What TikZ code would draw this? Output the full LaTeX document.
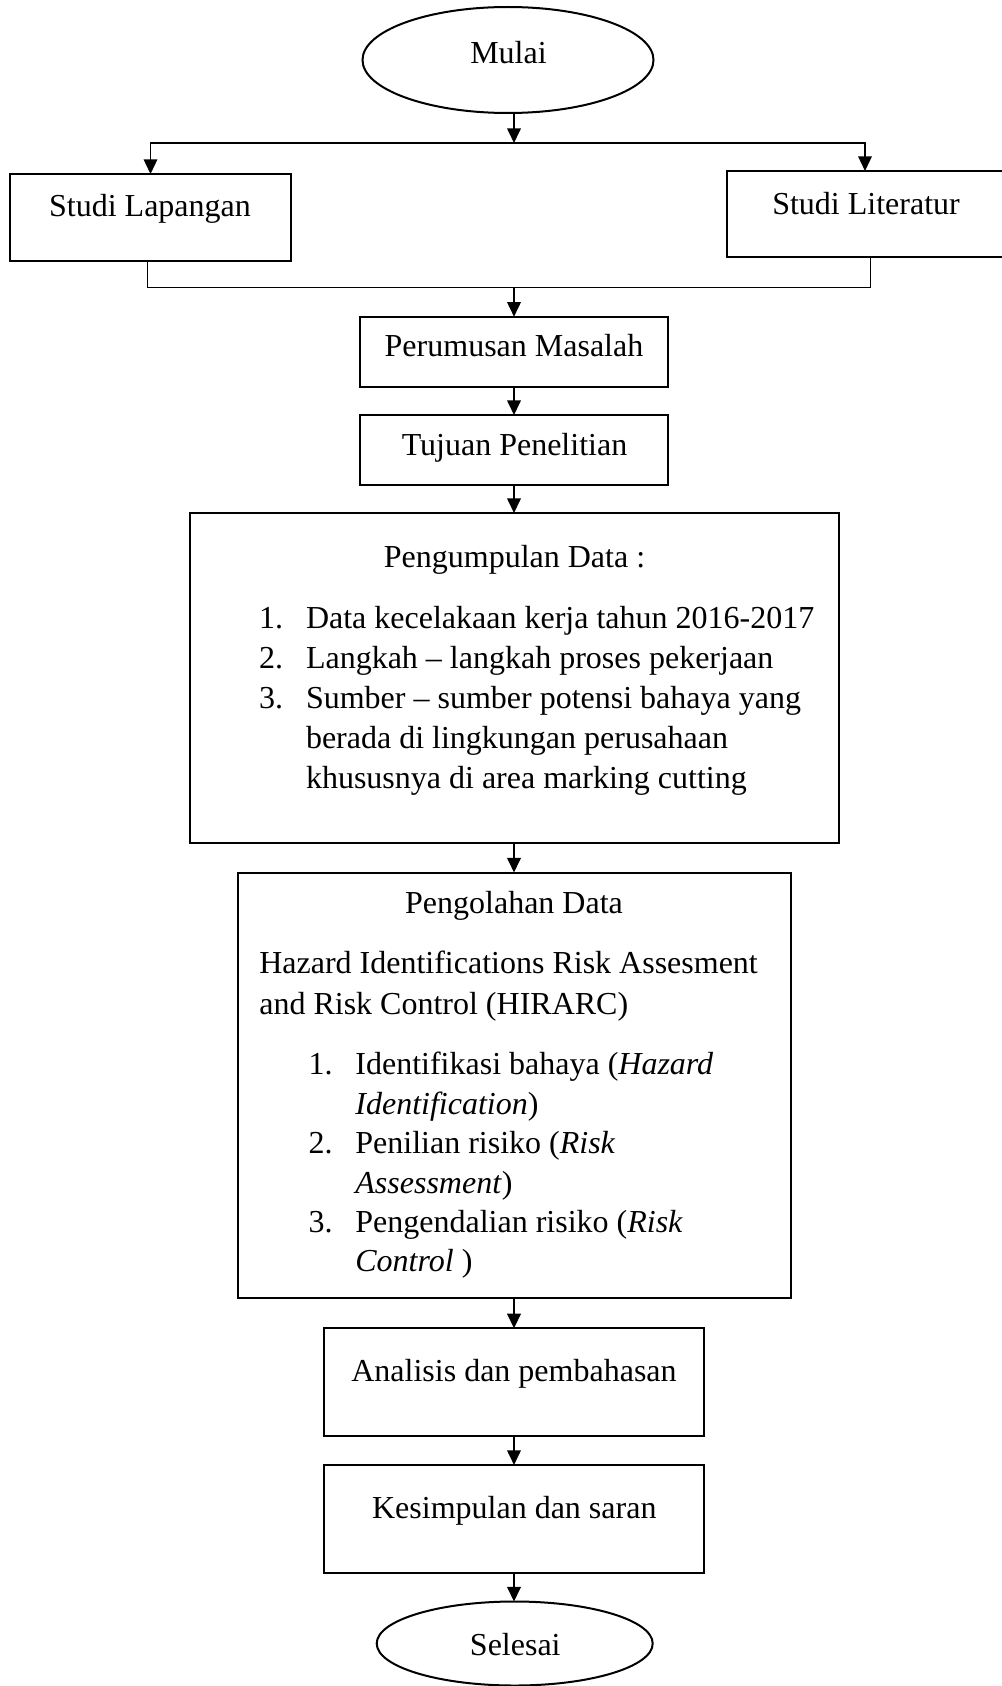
\documentclass[tikz,border=0pt]{standalone}
\usepackage{fontspec}
\setmainfont{Liberation Serif}
\usetikzlibrary{arrows.meta,shapes.geometric}
\newcommand\fsz{\fontsize{16}{20}\selectfont}
\tikzset{
  box/.style={draw, line width=1pt, rectangle, inner sep=0pt, outer sep=0pt},
  oval/.style={draw, line width=1pt, ellipse, inner sep=0pt, outer sep=0pt},
  arr/.style={line width=0.85pt, -{Triangle[length=7.3pt,width=6.8pt]}},
  barline/.style={line width=0.65pt},
  thinline/.style={line width=0.5pt},
  ctxt/.style={inner sep=0pt, outer sep=0pt, anchor=base, font=\fsz},
  ltxt/.style={inner sep=0pt, outer sep=0pt, anchor=base west, font=\fsz},
}
\begin{document}
\begin{tikzpicture}[x=0.5pt,y=-0.5pt]
\useasboundingbox (0,0) rectangle (1001,1686);
% shapes
\node[oval, minimum width=145.5pt, minimum height=53pt] (mulai) at (508,60) {};
\node[box, minimum width=140.5pt, minimum height=43.5pt] (lap) at (150.5,217.5) {};
\node[box, minimum width=138pt, minimum height=42.75pt] (lit) at (865,213.75) {};
\node[box, minimum width=154pt, minimum height=35.3pt] (rumus) at (514,352) {};
\node[box, minimum width=154pt, minimum height=35pt] (tujuan) at (514,450) {};
\node[box, minimum width=324.5pt, minimum height=165pt] (kumpul) at (514.5,678) {};
\node[box, minimum width=276.3pt, minimum height=212.5pt] (olah) at (514.7,1085) {};
\node[box, minimum width=190pt, minimum height=53.7pt] (analisis) at (514,1382) {};
\node[box, minimum width=190pt, minimum height=53.85pt] (simpul) at (514,1518.8) {};
\node[oval, minimum width=138pt, minimum height=42pt] (selesai) at (514.7,1643.5) {};
% texts
\node[ctxt] (tmulai) at (508.5,63.3) {Mulai};
\node[ctxt] (tlap) at (150,216.7) {Studi Lapangan};
\node[ctxt] (tlit) at (866,214.3) {Studi Literatur};
\node[ctxt] (trumus) at (514,356.7) {Perumusan Masalah};
\node[ctxt] (ttujuan) at (514.5,455) {Tujuan Penelitian};
\node[ctxt] (tkumpul) at (514.5,567.3) {Pengumpulan Data :};
\node[ltxt] (kn1) at (259,628.3) {1.};
\node[ltxt] (kt1) at (306,628.3) {Data kecelakaan kerja tahun 2016-2017};
\node[ltxt] (kn2) at (259,668.3) {2.};
\node[ltxt] (kt2) at (306,668.3) {Langkah – langkah proses pekerjaan};
\node[ltxt] (kn3) at (259,708.3) {3.};
\node[ltxt] (kt3) at (306,708.3) {Sumber – sumber potensi bahaya yang};
\node[ltxt] (kt4) at (306,748.3) {berada di lingkungan perusahaan};
\node[ltxt] (kt5) at (306,788.3) {khususnya di area marking cutting};
\node[ctxt] (tolah) at (514,913) {Pengolahan Data};
\node[ltxt] (oh1) at (259.3,973.3) {Hazard Identifications Risk Assesment};
\node[ltxt] (oh2) at (259.3,1014.3) {and Risk Control (HIRARC)};
\node[ltxt] (on1) at (308.7,1074) {1.};
\node[ltxt] (ot1) at (355.4,1074) {Identifikasi bahaya (\textit{Hazard}};
\node[ltxt] (ot2) at (355.4,1114.3) {\textit{Identification})};
\node[ltxt] (on2) at (308.7,1153.3) {2.};
\node[ltxt] (ot3) at (355.4,1153.3) {Penilian risiko (\textit{Risk}};
\node[ltxt] (ot4) at (355.4,1193.3) {\textit{Assessment})};
\node[ltxt] (on3) at (308.7,1232.7) {3.};
\node[ltxt] (ot5) at (355.4,1232.7) {Pengendalian risiko (\textit{Risk}};
\node[ltxt] (ot6) at (355.4,1271.7) {\textit{Control} )};
\node[ctxt] (tanalisis) at (514,1381.7) {Analisis dan pembahasan};
\node[ctxt] (tsimpul) at (514.3,1518.3) {Kesimpulan dan saran};
\node[ctxt] (tselesai) at (515.3,1655) {Selesai};
% connectors
\coordinate (bar) at (514,143);
\coordinate (jl) at (147.3,287);
\coordinate (jr) at (870.7,287);
\coordinate (jn) at (514,287);
\draw[arr] (mulai.south -| bar) -- (bar);
\draw[barline, -{Triangle[length=7.3pt,width=6.8pt]}] (bar) -| (lap.north);
\draw[barline, -{Triangle[length=7.3pt,width=6.8pt]}] (bar) -| (lit.north);
\draw[thinline] (lap.south -| jl) -- (jl) -- (jr) -- (lit.south -| jr);
\draw[arr] (jn) -- (jn |- rumus.north);
\draw[arr] (rumus.south) -- (rumus.south |- tujuan.north);
\draw[arr] (tujuan.south) -- (tujuan.south |- kumpul.north);
\draw[arr] (tujuan.south |- kumpul.south) -- (tujuan.south |- olah.north);
\draw[arr] (tujuan.south |- olah.south) -- (tujuan.south |- analisis.north);
\draw[arr] (analisis.south) -- (analisis.south |- simpul.north);
\draw[arr] (simpul.south) -- (simpul.south |- selesai.north);
\end{tikzpicture}
\end{document}
